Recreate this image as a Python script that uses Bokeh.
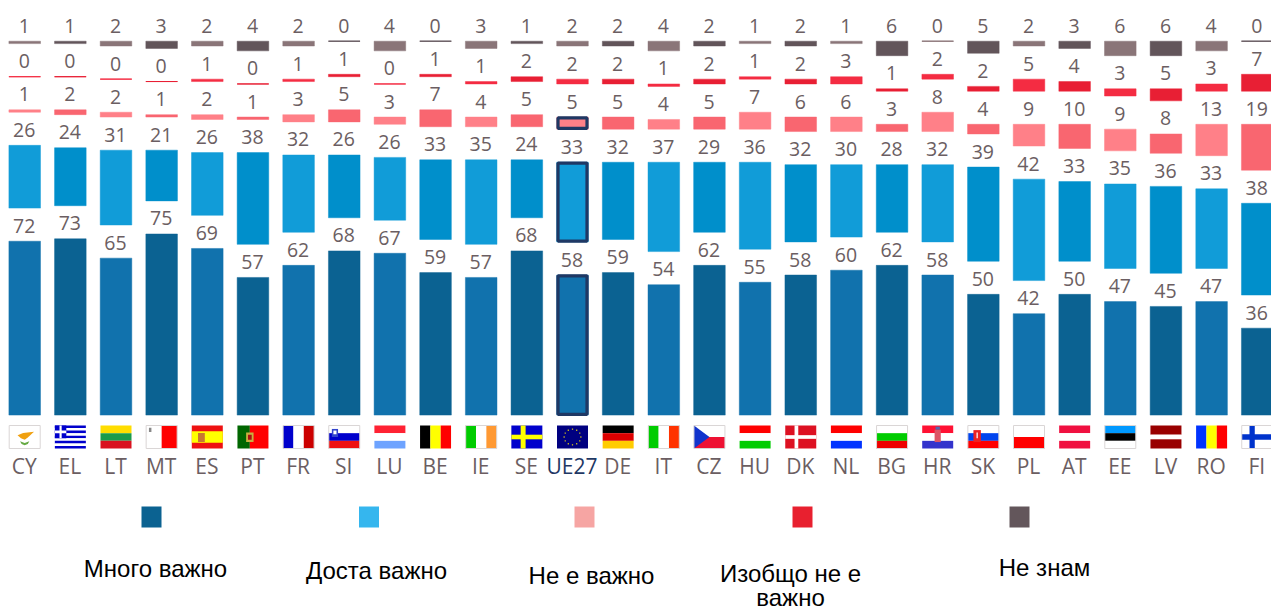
import math
from bokeh.plotting import figure
from bokeh.models import Range1d, ColumnDataSource
from bokeh.core.properties import value
from bokeh.embed import file_html
from bokeh.resources import INLINE

countries = ["CY","EL","LT","MT","ES","PT","FR","SI","LU","BE","IE","SE","UE27","DE","IT","CZ","HU","DK","NL","BG","HR","SK","PL","AT","EE","LV","RO","FI"]
very_important = [72,73,65,75,69,57,62,68,67,59,57,68,58,59,54,62,55,58,60,62,58,50,42,50,47,45,47,36]
fairly_important = [26,24,31,21,26,38,32,26,26,33,35,24,33,32,37,29,36,32,30,28,32,39,42,33,35,36,33,38]
not_important = [1,2,2,1,2,1,3,5,3,7,4,5,5,5,4,5,7,6,6,3,8,4,9,10,9,8,13,19]
not_at_all = [0,0,0,0,1,0,1,1,0,1,1,2,2,2,1,2,1,2,3,1,2,2,5,4,3,5,3,7]
dont_know = [1,1,2,3,2,4,2,0,4,0,3,1,2,2,4,2,1,2,1,6,0,5,2,3,6,6,4,0]
series = [very_important, fairly_important, not_important, not_at_all, dont_know]
legend_labels = ["Много важно", "Доста важно", "Не е важно", "Изобщо не е\nважно", "Не знам"]
legend_colors = ["#0B6291", "#35B6EE", "#F6A5A3", "#E8202F", "#63565B"]
odd_colors = ["#1172AD", "#119CD8", "#FF8088", "#F42C42", "#8A7578"]
even_colors = ["#0B6292", "#008FCB", "#F96670", "#E81F34", "#62555A"]
text_color = "#6B5E62"
navy = "#1F3864"

W, H = 1271, 611
PITCH = 45.65
UNIT = 2.415
BASE = 414.6      # picture pixel of the zero line
GAP = 33.1 / UNIT
X0 = 24.2         # picture pixel of the first bar's centre
TEXT_UP = 8.0     # the text glyph sits this many pixels under its asked baseline

def py(page_y):
    return (BASE - page_y) / UNIT

x_start = -X0 / PITCH
y_top = py(0)
p = figure(width=W, height=H, output_backend="svg", toolbar_location=None,
           x_range=Range1d(x_start, x_start + W / PITCH),
           y_range=Range1d(y_top - H / UNIT, y_top),
           min_border=0, outline_line_color=None, background_fill_color="white")
p.axis.visible = False
p.grid.visible = False

half = 31.6 / 2 / PITCH
xs = list(range(len(countries)))
bottom = [0.0] * len(countries)
for s, vals in enumerate(series):
    tops = [b + v for b, v in zip(bottom, vals)]
    cols = [odd_colors[s] if i % 2 == 0 else even_colors[s] for i in xs]
    src = ColumnDataSource(dict(
        left=[i - half for i in xs], right=[i + half for i in xs],
        bottom=bottom, top=tops, color=cols,
        line_alpha=[1.0 if v == 0 else 0.45 for v in vals],
    ))
    p.quad(left="left", right="right", bottom="bottom", top="top", source=src,
           fill_color="color", line_color="color", line_alpha="line_alpha", line_width=1)
    # highlighted EU bar
    u = countries.index("UE27")
    ih = 1.3 / PITCH
    iv = 1.3 / UNIT
    if vals[u] > 0 and s < 3:
        p.quad(left=[u - half + ih], right=[u + half - ih], bottom=[bottom[u] + iv - 0.2],
               top=[tops[u] - iv + 0.2], fill_color=None, line_color=navy, line_width=3.2)
    p.text(x=xs, y=[t + (7.5 + TEXT_UP) / UNIT for t in tops], text=[str(v) for v in vals],
           text_font=value("Open Sans"), text_font_size="19.5px", text_color=text_color,
           text_align="center", text_baseline="alphabetic", x_offset=-0.5)
    bottom = [t + GAP for t in tops]

# country codes
p.text(x=xs, y=[py(473.5 - TEXT_UP)] * len(xs), text=countries, text_font=value("Open Sans"),
       text_font_size="21px", text_align="center", text_baseline="alphabetic",
       text_color=[navy if c == "UE27" else text_color for c in countries], x_offset=-0.5)

# flags: stripes and small devices, as fractions of the flag box
BLUE, RED, GREEN = "#0000CC", "#FF0000", "#00CC00"
def h3(a, b, c):
    return [(0, 0, 1, 1/3, a), (0, 1/3, 1, 2/3, b), (0, 2/3, 1, 1, c)]
def v3(a, b, c):
    return [(0, 0, 1/3, 1, a), (1/3, 0, 2/3, 1, b), (2/3, 0, 1, 1, c)]
greek = [(0, k/9, 1, (k+1)/9, "#0000CC" if k % 2 == 0 else "white") for k in range(9)] + \
        [(0, 0, 0.37, 5/9, "#0000CC"), (0.15, 0, 0.22, 5/9, "white"), (0, 2/9, 0.37, 3/9, "white")]
eu_stars = [(0.5 + 0.27*math.cos(a*math.pi/6) - 0.02, 0.5 + 0.34*math.sin(a*math.pi/6) - 0.03,
             0.5 + 0.27*math.cos(a*math.pi/6) + 0.02, 0.5 + 0.34*math.sin(a*math.pi/6) + 0.03, "#C8B820") for a in range(12)]
flags = {
    "CY": [(0, 0, 1, 1, "#FFFFFF")],
    "EL": greek,
    "LT": h3("#FFDD00", "#1B9B4B", "#D9121F"),
    "MT": [(0, 0, 0.5, 1, "white"), (0.5, 0, 1, 1, RED), (0.09, 0.1, 0.17, 0.28, "#888888")],
    "ES": [(0, 0, 1, 1, "#EE1111"), (0, 0.25, 1, 0.75, "#FFFF00"), (0.2, 0.33, 0.42, 0.72, "#C87830")],
    "PT": [(0, 0, 0.4, 1, "#006600"), (0.4, 0, 1, 1, RED), (0.28, 0.3, 0.52, 0.72, "#C8B040"), (0.34, 0.4, 0.46, 0.62, "#AA1111")],
    "FR": v3(BLUE, "white", "#CC0000"),
    "SI": h3("white", "#0000CC", "#EE1111") + [(0.1, 0.15, 0.3, 0.5, "#3344CC"), (0.15, 0.22, 0.25, 0.38, "white")],
    "LU": h3("#FF2233", "white", "#6DA3FF"),
    "BE": v3("#000000", "#FFFF00", RED),
    "IE": v3(GREEN, "white", "#FF9933"),
    "SE": [(0, 0, 1, 1, BLUE), (0.3, 0, 0.46, 1, "#FFFF00"), (0, 0.4, 1, 0.6, "#FFFF00")],
    "UE27": [(0, 0, 1, 1, "#000080")] + eu_stars,
    "DE": h3("#000000", "#DD0000", "#FFCC00"),
    "IT": v3(GREEN, "white", "#FF3300"),
    "CZ": [(0, 0, 1, 0.5, "white"), (0, 0.5, 1, 1, "#EE1133")],
    "HU": h3(RED, "white", GREEN),
    "DK": [(0, 0, 1, 1, "#DD1122"), (0.3, 0, 0.42, 1, "white"), (0, 0.42, 1, 0.58, "white")],
    "NL": h3(RED, "white", "#0033FF"),
    "BG": h3("white", GREEN, "#EE0000"),
    "HR": h3("#FF1133", "white", "#3333CC") + [(0.4, 0.18, 0.6, 0.72, "#DD5566"), (0.43, 0.05, 0.57, 0.18, "#5566AA")],
    "SK": h3("white", "#0044EE", RED) + [(0.18, 0.2, 0.42, 0.72, "#EE2222"), (0.28, 0.3, 0.32, 0.55, "white")],
    "PL": [(0, 0, 1, 0.5, "white"), (0, 0.5, 1, 1, RED)],
    "AT": h3("#F01040", "white", "#F01040"),
    "EE": h3("#0099FF", "#000000", "white"),
    "LV": [(0, 0, 1, 0.4, "#990000"), (0, 0.4, 1, 0.6, "white"), (0, 0.6, 1, 1, "#990000")],
    "RO": v3("#0033FF", "#FFFF00", RED),
    "FI": [(0, 0, 1, 1, "white"), (0.25, 0, 0.42, 1, "#0033CC"), (0, 0.38, 1, 0.62, "#0033CC")],
}
polys = {
    "CY": [([0.27, 0.45, 0.8, 0.6, 0.5, 0.38], [0.42, 0.33, 0.27, 0.52, 0.62, 0.55], "#F0A010"),
           ([0.35, 0.5, 0.65, 0.6, 0.5, 0.4], [0.68, 0.76, 0.68, 0.8, 0.86, 0.8], "#66AA44")],
    "CZ": [([0, 0.5, 0], [0, 0.5, 1], "#1133CC")],
}
bordered = {"CY", "MT", "FR", "SI", "IE", "IT", "CZ", "BG", "SK", "PL", "EE", "FI"}
FW, FH, FT = 31.0 / PITCH, 23.0, 425.0
for i, c in enumerate(countries):
    fx = lambda t: i + (t - 0.5) * FW
    fy = lambda t: py(FT + t * FH)
    r = flags[c]
    p.quad(left=[fx(a[0]) for a in r], right=[fx(a[2]) for a in r],
           top=[fy(a[1]) for a in r], bottom=[fy(a[3]) for a in r],
           fill_color=[a[4] for a in r], line_color=None)
    for xsf, ysf, col in polys.get(c, []):
        p.patch([fx(t) for t in xsf], [fy(t) for t in ysf], fill_color=col, line_color=None)
    if c in bordered:
        p.quad(left=[fx(0)], right=[fx(1)], top=[fy(0)], bottom=[fy(1)],
               fill_color=None, line_color="#DAD6D6", line_width=1)

# legend
leg_left = [141, 358.5, 574, 792, 1009]
for lx, col in zip(leg_left, legend_colors):
    p.quad(left=[(lx - X0) / PITCH], right=[(lx + 20 - X0) / PITCH], top=[py(506)], bottom=[py(527)],
           fill_color=col, line_color=None)
leg_cx = [155, 376, 591, 790, 1044]
leg_base = [576, 578, 583, 581, 575]
for lab, cx, by in zip(legend_labels, leg_cx, leg_base):
    for k, part in enumerate(lab.split("\n")):
        p.text(x=[(cx - X0) / PITCH], y=[py(by + 24 * k - TEXT_UP)], text=[part],
               text_font=value("Liberation Sans"), text_font_size="24px", text_color="#000000",
               text_align="center", text_baseline="alphabetic")

open("out.html", "w").write(file_html(p, INLINE))
